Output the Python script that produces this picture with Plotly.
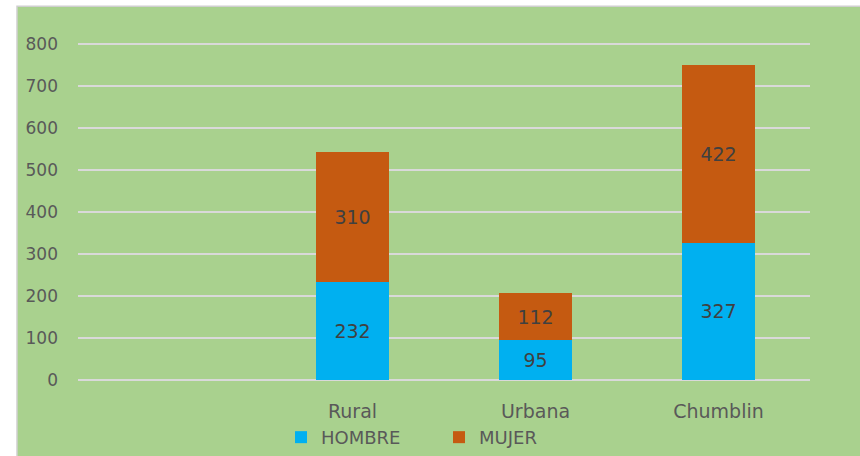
import plotly.graph_objects as go

categories = [" ", "Rural", "Urbana", "Chumblin"]
hombre = [None, 232, 95, 327]
mujer = [None, 310, 112, 422]
y_ticks = [0, 100, 200, 300, 400, 500, 600, 700, 800]

FONT = "DejaVu Sans, Verdana, sans-serif"
GREEN = "#A9D18E"
W, H = 860, 456
YMAX = 804
L, R, B = 78, 50, 76
ph = 336 * YMAX / 800
T = H - B - ph
pw = W - L - R

fig = go.Figure()
fig.add_trace(go.Bar(
    x=categories, y=hombre, name="HOMBRE",
    marker=dict(color="#00B0F0", line=dict(width=0)),
    texttemplate="%{y}", textposition="inside", insidetextanchor="middle",
    textfont=dict(color="#404040", size=19, family=FONT),
))
fig.add_trace(go.Bar(
    x=categories, y=mujer, name="MUJER",
    marker=dict(color="#C55A11", line=dict(width=0)),
    texttemplate="%{y}", textposition="inside", insidetextanchor="middle",
    textfont=dict(color="#404040", size=19, family=FONT),
))

fig.update_layout(
    width=W, height=H,
    barmode="stack", bargap=0.605,
    paper_bgcolor="white", plot_bgcolor=GREEN,
    margin=dict(l=L, r=R, t=T, b=B, autoexpand=False),
    font=dict(family=FONT, color="#595959", size=17),
    showlegend=True,
    legend=dict(orientation="h", x=0.4932, xanchor="center", y=-0.17, yanchor="middle",
                font=dict(size=18, color="#595959", family=FONT),
                bgcolor="rgba(0,0,0,0)", entrywidth=113, traceorder="normal"),
    shapes=[dict(type="rect", xref="paper", yref="paper",
                 x0=(17 - L) / pw, x1=(W + 5 - L) / pw,
                 y0=-(B + 5) / ph, y1=1 + (T - 6.5) / ph,
                 fillcolor=GREEN, line=dict(color="#cfcfcf", width=1.5), layer="below")],
)
fig.update_xaxes(type="category", categoryorder="array", categoryarray=categories,
                 showgrid=False, showline=False, ticks="", ticklabelstandoff=18,
                 automargin=False, tickfont=dict(size=19, color="#595959"))
fig.update_yaxes(range=[0, YMAX], tickvals=y_ticks, showgrid=True, gridcolor="#D9D9D9",
                 gridwidth=2, zeroline=True, zerolinecolor="#D9D9D9", zerolinewidth=2,
                 showline=False, ticks="", ticklabelstandoff=19, automargin=False,
                 tickfont=dict(size=17, color="#595959"))

fig.write_html("out.html", config={"displayModeBar": False},
               post_script="document.body.style.margin='0';document.body.style.overflow='hidden';")
